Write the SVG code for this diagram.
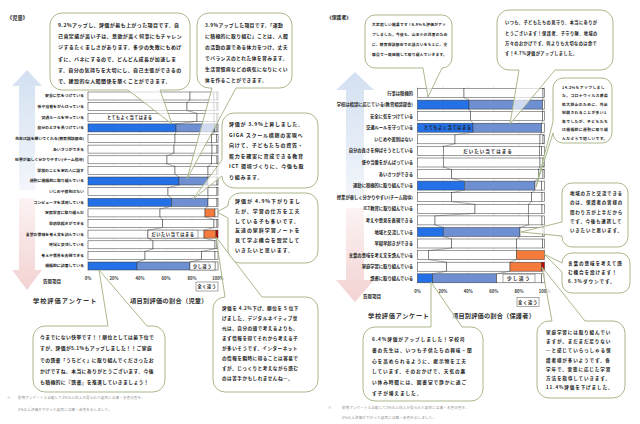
<svg xmlns="http://www.w3.org/2000/svg" width="640" height="424" viewBox="0 0 640 424">
<defs>
<linearGradient id="gUp" x1="0" y1="0" x2="0" y2="1"><stop offset="0" stop-color="#d3e0f1"/><stop offset="1" stop-color="#f3f6fb"/></linearGradient>
<linearGradient id="gDn" x1="0" y1="0" x2="0" y2="1"><stop offset="0" stop-color="#fcf3f3"/><stop offset="1" stop-color="#f3d2d2"/></linearGradient>
</defs>
<style>
.t{font-family:"Noto Sans CJK JP","Noto Sans",sans-serif;font-weight:700;fill:#222}
.lb{font-size:3.9px;text-anchor:end}
.rl{font-size:4.3px;text-anchor:end}
.ax{font-size:4.2px;text-anchor:middle;fill:#333}
.c{fill:#fff;fill-opacity:0.68;stroke:#9fb17f;stroke-width:0.9}
.w{fill:#fff;stroke:#3a3a3a;stroke-width:0.5}
.bl{fill:#2470e6;stroke:#3a3a3a;stroke-width:0.5}
.md{fill:#6e8fd2;stroke:#3a3a3a;stroke-width:0.5}
.or{fill:#f47b3c;stroke:#3a3a3a;stroke-width:0.5}
.rd{fill:#c00000;stroke:#3a3a3a;stroke-width:0.5}
.gr{stroke:#d6d6d6;stroke-width:0.5}
.sl{stroke:#555;stroke-width:0.5;fill:none}
.bx{fill:#fff;stroke:#555;stroke-width:0.5}
.ttl{font-size:6.2px;fill:#333}
.fn{font-size:3.4px;letter-spacing:0.3px;fill:#8a8a8a;font-weight:400}
.s1{font-size:5px;letter-spacing:0.4px}
.s2{font-size:4.8px;letter-spacing:0.4px}
.s3{font-size:5px;letter-spacing:0.75px}
.s4{font-size:5px;letter-spacing:0.95px}
.s5{font-size:4.6px;letter-spacing:0.5px}
.s6{font-size:4.8px;letter-spacing:0.4px}
.r1{font-size:3.7px;letter-spacing:0.3px}
.r2{font-size:4.2px;letter-spacing:0.45px}
.r3{font-size:3.8px;letter-spacing:0.4px}
.r4{font-size:4.5px;letter-spacing:0.8px}
.r5{font-size:4.6px;letter-spacing:0.9px}
.r6{font-size:4.6px;letter-spacing:0.85px}
.r7{font-size:4.7px;letter-spacing:0.9px}
</style>
<rect width="640" height="424" fill="#fff"/>

<g id="headers">
<text class="t" x="7" y="20" font-size="5.2">《児童》</text>
<text class="t" x="327" y="19" font-size="4.8">《保護者》</text>
</g>

<g id="arrows">
<polygon points="27,70 42,86 35,86 35,190 19,190 19,86 12,86" fill="url(#gUp)"/>
<polygon points="19,198 35,198 35,270 42,270 27,290 12,270 19,270" fill="url(#gDn)"/>
<polygon points="355,72 374,90 364,90 364,200 346,200 346,90 336,90" fill="url(#gUp)"/>
<polygon points="346,208 364,208 364,280 374,280 355,302 336,280 346,280" fill="url(#gDn)"/>
</g>

<g id="left-chart">
<g class="gr">
<line x1="88" y1="90" x2="88" y2="271"/><line x1="114" y1="90" x2="114" y2="271"/><line x1="140" y1="90" x2="140" y2="271"/><line x1="166" y1="90" x2="166" y2="271"/><line x1="192" y1="90" x2="192" y2="271"/><line x1="218" y1="90" x2="218" y2="271"/>
</g>
<g id="left-bars">
<rect class="w" x="88" y="92" width="102" height="8"/><rect class="w" x="190" y="92" width="24" height="8"/><rect class="w" x="214" y="92" width="3" height="8"/><rect class="w" x="217" y="92" width="1" height="8"/>
<rect class="w" x="88" y="102.6" width="99" height="8"/><rect class="w" x="187" y="102.6" width="27" height="8"/><rect class="w" x="214" y="102.6" width="3" height="8"/><rect class="w" x="217" y="102.6" width="1" height="8"/>
<rect class="w" x="88" y="113.3" width="109" height="8"/><rect class="w" x="197" y="113.3" width="17" height="8"/><rect class="w" x="214" y="113.3" width="3" height="8"/><rect class="w" x="217" y="113.3" width="1" height="8"/>
<rect class="bl" x="88" y="123.9" width="88" height="8"/><rect class="md" x="176" y="123.9" width="39" height="8"/><rect class="w" x="215" y="123.9" width="2" height="8"/><rect class="w" x="217" y="123.9" width="1" height="8"/>
<rect class="w" x="88" y="134.5" width="87" height="8"/><rect class="w" x="175" y="134.5" width="36.7" height="8"/><rect class="w" x="211.7" y="134.5" width="4.8" height="8"/><rect class="w" x="216.5" y="134.5" width="1.5" height="8"/>
<rect class="w" x="88" y="145.1" width="86" height="8"/><rect class="w" x="174" y="145.1" width="38" height="8"/><rect class="w" x="212" y="145.1" width="5" height="8"/><rect class="w" x="217" y="145.1" width="1" height="8"/>
<rect class="w" x="88" y="155.8" width="79" height="8"/><rect class="w" x="167" y="155.8" width="44.7" height="8"/><rect class="w" x="211.7" y="155.8" width="5.3" height="8"/><rect class="w" x="217" y="155.8" width="1" height="8"/>
<rect class="w" x="88" y="166.4" width="87" height="8"/><rect class="w" x="175" y="166.4" width="33" height="8"/><rect class="w" x="208" y="166.4" width="8.5" height="8"/><rect class="w" x="216.5" y="166.4" width="1.5" height="8"/>
<rect class="bl" x="88" y="177" width="91" height="8"/><rect class="md" x="179" y="177" width="29" height="8"/><rect class="w" x="208" y="177" width="9" height="8"/><rect class="w" x="217" y="177" width="1" height="8"/>
<rect class="w" x="88" y="187.6" width="80" height="8"/><rect class="w" x="168" y="187.6" width="40" height="8"/><rect class="w" x="208" y="187.6" width="9" height="8"/><rect class="w" x="217" y="187.6" width="1" height="8"/>
<rect class="bl" x="88" y="198.3" width="83.7" height="8"/><rect class="md" x="171.7" y="198.3" width="36.3" height="8"/><rect class="w" x="208" y="198.3" width="9" height="8"/><rect class="w" x="217" y="198.3" width="1" height="8"/>
<rect class="w" x="88" y="208.9" width="72" height="8"/><rect class="w" x="160" y="208.9" width="45" height="8"/><rect class="or" x="205" y="208.9" width="10" height="8"/><rect class="w" x="215" y="208.9" width="3" height="8"/>
<rect class="w" x="88" y="219.5" width="74.7" height="8"/><rect class="w" x="162.7" y="219.5" width="51.3" height="8"/><rect class="w" x="214" y="219.5" width="3" height="8"/><rect class="w" x="217" y="219.5" width="1" height="8"/>
<rect class="w" x="88" y="230.1" width="60" height="8"/><rect class="w" x="148" y="230.1" width="56" height="8"/><rect class="or" x="204" y="230.1" width="12" height="8"/><rect class="rd" x="216" y="230.1" width="2" height="8"/>
<rect class="w" x="88" y="240.8" width="65" height="8"/><rect class="w" x="153" y="240.8" width="62" height="8"/><rect class="w" x="215" y="240.8" width="2" height="8"/><rect class="w" x="217" y="240.8" width="1" height="8"/>
<rect class="w" x="88" y="251.4" width="57" height="8"/><rect class="w" x="145" y="251.4" width="56.7" height="8"/><rect class="w" x="201.7" y="251.4" width="13.3" height="8"/><rect class="w" x="215" y="251.4" width="3" height="8"/>
<rect class="bl" x="88" y="262" width="49" height="8"/><rect class="md" x="137" y="262" width="53" height="8"/><rect class="w" x="190" y="262" width="25" height="8"/><rect class="w" x="215" y="262" width="3" height="8"/>
</g>
<g id="left-labels" class="t lb">
<text x="84" y="97.4">安全に気をつけている</text>
<text x="84" y="108">係や当番をがんばっている</text>
<text x="84" y="118.7">交通ルールを守っている</text>
<text x="84" y="129.3">自分のよさを見つけている</text>
<text x="84" y="139.9">先生は話を聞いてくれる(教育相談部会)</text>
<text x="84" y="150.5">あいさつができる</text>
<text x="84" y="161.2">授業が楽しく分かりやすい(チーム指導)</text>
<text x="84" y="171.8">学校のことを家の人に話す</text>
<text x="84" y="182.4">運動に積極的に取り組んでいる</text>
<text x="84" y="193">いじめや差別はない</text>
<text x="84" y="203.7">コンピュータを活用している</text>
<text x="84" y="214.3">家庭学習に取り組んだ</text>
<text x="84" y="224.9">早寝早起きができる</text>
<text x="84" y="235.5">言葉の意味を考え文を読んでいる</text>
<text x="84" y="246.2">地域と交流している</text>
<text x="84" y="256.8">考えや意見を表現できる</text>
<text x="84" y="267.4">積極的に読書している</text>
</g>
<g id="left-axis" class="t ax">
<text x="88" y="279.5">0%</text><text x="114" y="279.5">20%</text><text x="140" y="279.5">40%</text><text x="166" y="279.5">60%</text><text x="192" y="279.5">80%</text><text x="218" y="279.5">100%</text>
</g>
<text class="t" x="43" y="282.8" font-size="4.3" letter-spacing="0.3">質問項目</text>
<g id="left-data-labels">
<text class="t" x="107" y="118.8" font-size="4.2" letter-spacing="0.4">とてもよく当てはまる</text>
<rect class="bx" x="148" y="230.1" width="50" height="8"/>
<text class="t" x="173" y="235.6" font-size="4.2" letter-spacing="0.6" text-anchor="middle">だいたい当てはまる</text>
<rect class="bx" x="190" y="262" width="25" height="8"/>
<text class="t" x="202.5" y="267.5" font-size="4.2" letter-spacing="0.6" text-anchor="middle">少し違う</text>
<rect class="bx" x="196" y="282" width="22" height="9"/>
<text class="t" x="207" y="288" font-size="4.2" letter-spacing="0.6" text-anchor="middle">全く違う</text>
</g>
<text class="t ttl" x="33" y="303.2" letter-spacing="1">学校評価アンケート</text>
<text class="t ttl" x="130" y="303.2" letter-spacing="0.3">項目別評価の割合（児童）</text>
</g>

<g id="right-chart">
<g class="gr">
<line x1="417.5" y1="86" x2="417.5" y2="284"/><line x1="442.9" y1="86" x2="442.9" y2="284"/><line x1="468.3" y1="86" x2="468.3" y2="284"/><line x1="493.7" y1="86" x2="493.7" y2="284"/><line x1="519.1" y1="86" x2="519.1" y2="284"/><line x1="544.5" y1="86" x2="544.5" y2="284"/>
</g>
<g id="right-bars">
<rect class="w" x="417.5" y="88.5" width="46.5" height="9"/><rect class="w" x="464" y="88.5" width="79" height="9"/><rect class="w" x="543" y="88.5" width="1.5" height="9"/>
<rect class="bl" x="417.5" y="100.1" width="51.5" height="9"/><rect class="md" x="469" y="100.1" width="73.7" height="9"/><rect class="w" x="542.7" y="100.1" width="1.8" height="9"/>
<rect class="w" x="417.5" y="111.7" width="53.2" height="9"/><rect class="w" x="470.7" y="111.7" width="72" height="9"/><rect class="w" x="542.7" y="111.7" width="1.8" height="9"/>
<rect class="bl" x="417.5" y="123.2" width="55.5" height="9"/><rect class="md" x="473" y="123.2" width="68.7" height="9"/><rect class="w" x="541.7" y="123.2" width="2.8" height="9"/>
<rect class="w" x="417.5" y="134.8" width="37.5" height="9"/><rect class="w" x="455" y="134.8" width="85" height="9"/><rect class="w" x="540" y="134.8" width="3" height="9"/><rect class="w" x="543" y="134.8" width="1.5" height="9"/>
<rect class="w" x="417.5" y="146.4" width="25.8" height="9"/><rect class="w" x="443.3" y="146.4" width="96" height="9"/><rect class="w" x="539.3" y="146.4" width="2.4" height="9"/><rect class="w" x="541.7" y="146.4" width="2.8" height="9"/>
<rect class="w" x="417.5" y="158" width="25.8" height="9"/><rect class="w" x="443.3" y="158" width="96.7" height="9"/><rect class="w" x="540" y="158" width="3" height="9"/><rect class="w" x="543" y="158" width="1.5" height="9"/>
<rect class="w" x="417.5" y="169.6" width="34.2" height="9"/><rect class="w" x="451.7" y="169.6" width="86.6" height="9"/><rect class="w" x="538.3" y="169.6" width="4.7" height="9"/><rect class="w" x="543" y="169.6" width="1.5" height="9"/>
<rect class="bl" x="417.5" y="181.1" width="46.8" height="9"/><rect class="md" x="464.3" y="181.1" width="70.7" height="9"/><rect class="w" x="535" y="181.1" width="6.7" height="9"/><rect class="w" x="541.7" y="181.1" width="2.8" height="9"/>
<rect class="w" x="417.5" y="192.7" width="34.2" height="9"/><rect class="w" x="451.7" y="192.7" width="80" height="9"/><rect class="w" x="531.7" y="192.7" width="10.3" height="9"/><rect class="w" x="542" y="192.7" width="2.5" height="9"/>
<rect class="w" x="417.5" y="204.3" width="57.5" height="9"/><rect class="w" x="475" y="204.3" width="53.3" height="9"/><rect class="w" x="528.3" y="204.3" width="13.7" height="9"/><rect class="w" x="542" y="204.3" width="2.5" height="9"/>
<rect class="w" x="417.5" y="215.9" width="17.5" height="9"/><rect class="w" x="435" y="215.9" width="93.3" height="9"/><rect class="w" x="528.3" y="215.9" width="13.7" height="9"/><rect class="w" x="542" y="215.9" width="2.5" height="9"/>
<rect class="bl" x="417.5" y="227.5" width="25.8" height="9"/><rect class="md" x="443.3" y="227.5" width="76.7" height="9"/><rect class="w" x="520" y="227.5" width="23" height="9"/><rect class="w" x="543" y="227.5" width="1.5" height="9"/>
<rect class="w" x="417.5" y="239" width="34.2" height="9"/><rect class="w" x="451.7" y="239" width="65" height="9"/><rect class="w" x="516.7" y="239" width="26" height="9"/><rect class="w" x="542.7" y="239" width="1.8" height="9"/>
<rect class="w" x="417.5" y="250.6" width="10.8" height="9"/><rect class="w" x="428.3" y="250.6" width="88.4" height="9"/><rect class="or" x="516.7" y="250.6" width="27.8" height="9"/>
<rect class="w" x="417.5" y="262.2" width="29.2" height="9"/><rect class="w" x="446.7" y="262.2" width="63.3" height="9"/><rect class="or" x="510" y="262.2" width="31.7" height="9"/><rect class="rd" x="541.7" y="262.2" width="2.8" height="9"/>
<rect class="bl" x="417.5" y="273.8" width="15.2" height="9"/><rect class="md" x="432.7" y="273.8" width="64" height="9"/><rect class="w" x="496.7" y="273.8" width="45" height="9"/><rect class="w" x="541.7" y="273.8" width="2.8" height="9"/>
</g>
<g id="right-labels" class="t rl">
<text x="413" y="94.5">行事は積極的</text>
<text x="413" y="106.1">学校は相談に応じている(教育相談部会)</text>
<text x="413" y="117.7">安全に気をつけている</text>
<text x="413" y="129.2">交通ルールを守っている</text>
<text x="413" y="140.8">いじめや差別はない</text>
<text x="413" y="152.4">自分の良さを伸ばそうとしている</text>
<text x="413" y="164">係や当番をがんばっている</text>
<text x="413" y="175.6">あいさつができる</text>
<text x="413" y="187.1">運動に積極的に取り組んでいる</text>
<text x="413" y="198.7">授業が楽しく分かりやすい(チーム指導)</text>
<text x="413" y="210.3">ICT教育に取り組んでいる</text>
<text x="413" y="221.9">考えや意見を表現できる</text>
<text x="413" y="233.5">地域と交流している</text>
<text x="413" y="245">早寝早起きができる</text>
<text x="413" y="256.6">言葉の意味を考え文を読んでいる</text>
<text x="413" y="268.2">家庭学習に取り組んでいる</text>
<text x="413" y="279.8">読書に取り組んでいる</text>
</g>
<g id="right-axis" class="t ax">
<text x="417.5" y="293">0%</text><text x="442.9" y="293">20%</text><text x="468.3" y="293">40%</text><text x="493.7" y="293">60%</text><text x="519.1" y="293">80%</text><text x="544.5" y="293">100%</text>
</g>
<text class="t" x="363" y="297.5" font-size="4.3" letter-spacing="0.3">質問項目</text>
<g id="right-data-labels">
<text class="t" x="424" y="129.3" font-size="4.4" letter-spacing="0.4">とてもよく当てはまる</text>
<text class="t" x="488" y="152.5" font-size="4.5" letter-spacing="1" text-anchor="middle">だいたい当てはまる</text>
<rect class="bx" x="503" y="274.1" width="32" height="8.5"/>
<text class="t" x="519" y="280" font-size="4.6" letter-spacing="1.4" text-anchor="middle">少し違う</text>
<rect class="bx" x="517" y="297.5" width="22" height="9"/>
<text class="t" x="528" y="303.6" font-size="4.3" letter-spacing="0.7" text-anchor="middle">全く違う</text>
</g>
<text class="t ttl" x="368" y="317.5" letter-spacing="0.7">学校評価アンケート</text>
<text class="t ttl" x="452" y="317.5" font-size="6" letter-spacing="0.2">項目別評価の割合（保護者）</text>
</g>

<g id="connectors">
<path class="sl" d="M190,100 L187,102.6 M187,110.6 L197,113.3 M197,121.3 L176,123.9 M176,131.9 L175,134.5 M175,142.5 L174,145.1 M174,153.1 L167,155.8 M167,163.8 L175,166.4 M175,174.4 L179,177 M179,185 L168,187.6 M168,195.6 L171.7,198.3 M171.7,206.3 L160,208.9 M160,216.9 L162.7,219.5 M162.7,227.5 L148,230.1 M148,238.1 L153,240.8 M153,248.8 L145,251.4 M145,259.4 L137,262"/>
<path class="sl" d="M214,100 L214,102.6 M214,110.6 L214,113.3 M214,121.3 L215,123.9 M215,131.9 L211.7,134.5 M211.7,142.5 L212,145.1 M212,153.1 L211.7,155.8 M211.7,163.8 L208,166.4 M208,174.4 L208,177 M208,185 L208,187.6 M208,195.6 L208,198.3 M208,206.3 L205,208.9 M205,216.9 L214,219.5 M214,227.5 L204,230.1 M204,238.1 L215,240.8 M215,248.8 L201.7,251.4 M201.7,259.4 L190,262"/>
<path class="sl" d="M464,97.5 L469,100.1 M469,109.1 L470.7,111.7 M470.7,120.7 L473,123.2 M473,132.2 L455,134.8 M455,143.8 L443.3,146.4 M443.3,155.4 L443.3,158 M443.3,167 L451.7,169.6 M451.7,178.6 L464.3,181.1 M464.3,190.1 L451.7,192.7 M451.7,201.7 L475,204.3 M475,213.3 L435,215.9 M435,224.9 L443.3,227.5 M443.3,236.5 L451.7,239 M451.7,248 L428.3,250.6 M428.3,259.6 L446.7,262.2 M446.7,271.2 L432.7,273.8"/>
<path class="sl" d="M543,97.5 L542.7,100.1 M542.7,109.1 L542.7,111.7 M542.7,120.7 L541.7,123.2 M541.7,132.2 L540,134.8 M540,143.8 L539.3,146.4 M539.3,155.4 L540,158 M540,167 L538.3,169.6 M538.3,178.6 L535,181.1 M535,190.1 L531.7,192.7 M531.7,201.7 L528.3,204.3 M528.3,213.3 L528.3,215.9 M528.3,224.9 L520,227.5 M520,236.5 L516.7,239 M516.7,248 L516.7,250.6 M516.7,259.6 L510,262.2 M510,271.2 L496.7,273.8"/>
</g>

<g id="callout-L1">
<path class="c" d="M62,13 H178 A12,12 0 0 1 190,25 V78 A12,12 0 0 1 178,90 H160 L172,124 L128,90 H62 A12,12 0 0 1 50,78 V25 A12,12 0 0 1 62,13 Z"/>
<g class="t s1">
<text x="58" y="26.8">9.2%アップし、評価が最も上がった項目です。自</text>
<text x="58" y="38.1">己肯定感が高い子は、意欲が高く何事にもチャレン</text>
<text x="58" y="49.4">ジするたくましさがあります。多少の失敗にもめげ</text>
<text x="58" y="60.7">ずに、バネにするので、どんどん成長が加速しま</text>
<text x="58" y="72">す。自分の気持ちを大切にし、自己主張ができるの</text>
<text x="58" y="83.3">で、建設的な人間関係を築くことができます。</text>
</g>
</g>

<g id="callout-L2">
<path class="c" d="M209,13 H280 A12,12 0 0 1 292,25 V76 A12,12 0 0 1 280,88 H236 L187,179 L212,88 H209 A12,12 0 0 1 197,76 V25 A12,12 0 0 1 209,13 Z"/>
<g class="t s2">
<text x="205" y="26.7">3.9%アップした項目です。「運動</text>
<text x="205" y="37.8">に積極的に取り組む」ことは、人間</text>
<text x="205" y="48.9">の活動の源である体力をつけ、丈夫</text>
<text x="205" y="60">でバランスのとれた体を育みます。</text>
<text x="205" y="71.1">生活習慣病などの病気になりにくい</text>
<text x="205" y="82.2">体を作ることができます。</text>
</g>
</g>

<g id="callout-L3">
<path class="c" d="M234,113 H306 A12,12 0 0 1 318,125 V176 A12,12 0 0 1 306,188 H234 A12,12 0 0 1 222,176 L193,199 L222,160 V125 A12,12 0 0 1 234,113 Z"/>
<g class="t s3">
<text x="229" y="126">評価が 3.9%上昇しました。</text>
<text x="229" y="136.5">GIGA スクール構想の実現へ</text>
<text x="229" y="147">向けて、子どもたちの資質・</text>
<text x="229" y="157.5">能力を確実に育成できる教育</text>
<text x="229" y="168">ICT 環境づくりに、今後も取</text>
<text x="229" y="178.5">り組みます。</text>
</g>
</g>

<g id="callout-L4">
<path class="c" d="M240,193 H306 A12,12 0 0 1 318,205 V251 A12,12 0 0 1 306,263 H240 A12,12 0 0 1 228,251 V218 L217,212 L228,206 V205 A12,12 0 0 1 240,193 Z"/>
<g class="t s4">
<text x="235" y="203">評価が 4.9%下がりまし</text>
<text x="235" y="212.8">たが、学習の仕方を工夫</text>
<text x="235" y="222.6">している子も多いです。</text>
<text x="235" y="232.4">友達の家庭学習ノートを</text>
<text x="235" y="242.2">見て学ぶ機会を設定して</text>
<text x="235" y="252">いきたいと思います。</text>
</g>
</g>

<g id="callout-L5">
<path class="c" d="M225,297 L216,237 L262,297 H306 A12,12 0 0 1 318,309 V380 A12,12 0 0 1 306,392 H225 A12,12 0 0 1 213,380 V309 A12,12 0 0 1 225,297 Z"/>
<g class="t s5">
<text x="222" y="309.5">評価を 4.2%下げ、順位を 5 位下</text>
<text x="222" y="319.5">げました。デジタルネイティブ世</text>
<text x="222" y="329.5">代は、自分の頭で考えるよりも、</text>
<text x="222" y="339.5">まず情報を得てそれから考える子</text>
<text x="222" y="349.5">が多いそうです。インターネット</text>
<text x="222" y="359.5">の情報を瞬時に得ることは容易で</text>
<text x="222" y="369.5">すが、じっくりと考えながら読む</text>
<text x="222" y="379.5">のは苦手かもしれませんね…。</text>
</g>
</g>

<g id="callout-L6">
<path class="c" d="M45,326 H108 L99,270 L147,326 H153 A12,12 0 0 1 165,338 V380 A12,12 0 0 1 153,392 H45 A12,12 0 0 1 33,380 V338 A12,12 0 0 1 45,326 Z"/>
<g class="t s6">
<text x="40" y="339">今までにない快挙です！！順位としては最下位で</text>
<text x="40" y="350.3">すが、評価が5.1%もアップしました！！ご家庭</text>
<text x="40" y="361.6">での読書「うちどく」に取り組んでくださったお</text>
<text x="40" y="372.9">かげですね。本当にありがとうございます。今後</text>
<text x="40" y="384.2">も積極的に『読書』を推進していきましょう！</text>
</g>
</g>

<g id="callout-R1">
<path class="c" d="M375,15 H442 A10,10 0 0 1 452,25 V58 A10,10 0 0 1 442,68 L428,97 L423,68 H375 A10,10 0 0 1 365,58 V25 A10,10 0 0 1 375,15 Z"/>
<g class="t r1">
<text x="372" y="26.4">大変嬉しい結果です！6.9%も評価がアッ</text>
<text x="372" y="36.4">プしました。今後も、山王小の児童のため</text>
<text x="372" y="46.4">に、教育相談部会での話合いをもとに、全</text>
<text x="372" y="56.4">職員で一致団結して取り組んでいきます。</text>
</g>
</g>

<g id="callout-R2">
<path class="c" d="M509,10 H601 A12,12 0 0 1 613,22 V58 A12,12 0 0 1 601,70 H555 L510,124 L519,70 H509 A12,12 0 0 1 497,58 V22 A12,12 0 0 1 509,10 Z"/>
<g class="t r2">
<text x="505" y="24.3">いつも、子どもたちの見守り、本当にありが</text>
<text x="505" y="34.6">とうございます！保護者、子守り隊、地域の</text>
<text x="505" y="44.9">方々のおかげです。何よりも大切なのは命で</text>
<text x="505" y="55.2">す！4.7%評価がアップしました。</text>
</g>
</g>

<g id="callout-R3">
<path class="c" d="M563,78 H602 A10,10 0 0 1 612,88 V133 A10,10 0 0 1 602,143 H563 A10,10 0 0 1 553,133 L536,187 L553,122 V88 A10,10 0 0 1 563,78 Z"/>
<g class="t r3">
<text x="562" y="88.5">14.2%もアップしまし</text>
<text x="562" y="97">た。コロナウィルス感染</text>
<text x="562" y="105.5">拡大防止のために、外出</text>
<text x="562" y="114">制限されることが多い1</text>
<text x="562" y="122.5">年でしたが、子どもたち</text>
<text x="562" y="131">は積極的に運動に取り組</text>
<text x="562" y="139.5">んだようで嬉しいです。</text>
</g>
</g>

<g id="callout-R4">
<path class="c" d="M572,183 H618 A10,10 0 0 1 628,193 V237 A10,10 0 0 1 618,247 H572 A10,10 0 0 1 562,237 V236 L521,232 L562,222 V193 A10,10 0 0 1 572,183 Z"/>
<g class="t r4">
<text x="570" y="195">地域の方と交流できる</text>
<text x="570" y="204.3">のは、保護者の皆様の</text>
<text x="570" y="213.6">関わり方が上手だから</text>
<text x="570" y="222.9">です。今後も連携して</text>
<text x="570" y="232.2">いきたいと思います。</text>
</g>
</g>

<g id="callout-R5">
<path class="c" d="M572,253 H620 A10,10 0 0 1 630,263 V283 A10,10 0 0 1 620,293 H572 A10,10 0 0 1 562,283 V272 L544,254 L562,263 A10,10 0 0 1 572,253 Z"/>
<g class="t r5">
<text x="568" y="265">言葉の意味を考えて読</text>
<text x="568" y="274.2">む機会を設けます！</text>
<text x="568" y="283.4">6.3%ダウンです。</text>
</g>
</g>

<g id="callout-R6">
<path class="c" d="M549,321 H552 L542,267 L585,321 H613 A12,12 0 0 1 625,333 V386 A12,12 0 0 1 613,398 H549 A12,12 0 0 1 537,386 V333 A12,12 0 0 1 549,321 Z"/>
<g class="t r6">
<text x="546" y="334">家庭学習には取り組んでい</text>
<text x="546" y="343.2">ますが、まだまだ足りない</text>
<text x="546" y="352.4">…と感じていらっしゃる保</text>
<text x="546" y="361.6">護者様が多いようです。各</text>
<text x="546" y="370.8">学年で、実態に応じた学習</text>
<text x="546" y="380">方法を指導していきます。</text>
<text x="546" y="389.2">11.4%評価を下げました。</text>
</g>
</g>

<g id="callout-R7">
<path class="c" d="M375,327 H431 L431,282 L462,327 H471 A12,12 0 0 1 483,339 V389 A12,12 0 0 1 471,401 H375 A12,12 0 0 1 363,389 V339 A12,12 0 0 1 375,327 Z"/>
<g class="t r7">
<text x="372" y="341">6.4%評価がアップしました！学校司</text>
<text x="372" y="351.8">書の先生は、いつも子供たちの興味・関</text>
<text x="372" y="362.6">心を高められるように、掲示物を工夫</text>
<text x="372" y="373.4">しています。そのおかげで、天気の悪</text>
<text x="372" y="384.2">い休み時間には、図書室で静かに過ご</text>
<text x="372" y="395">す子が増えました。</text>
</g>
</g>

<g id="footnotes">
<text class="t fn" x="7" y="399">※</text>
<text class="t fn" x="18" y="399">前期アンケートと比較して3%以上向上が見られた項目には青・水色の色を、</text>
<text class="t fn" x="18" y="411">3%以上評価が下がった項目には橙・赤色を示しました。</text>
<text class="t fn" x="328" y="409">※</text>
<text class="t fn" x="342" y="409">前期アンケートと比較して3%以上向上が見られた項目には青・水色の色を、</text>
<text class="t fn" x="342" y="419">3%以上評価が下がった項目には橙・赤色を示しました。</text>
</g>
</svg>
